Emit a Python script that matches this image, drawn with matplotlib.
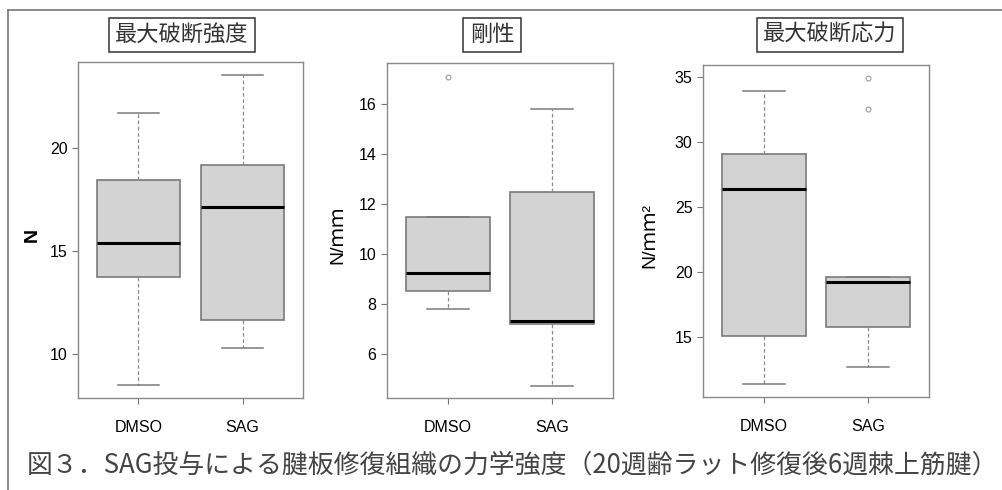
import matplotlib
matplotlib.use("Agg")
import matplotlib.pyplot as plt
from matplotlib.lines import Line2D

plt.rcParams['font.family'] = ['Liberation Sans', 'Noto Sans CJK JP', 'DejaVu Sans']

# groups
groups = ['DMSO', 'SAG']

# boxplot summaries: (whislo, q1, med, q3, whishi)
strength_stats = [(8.5, 13.72, 15.37, 18.45, 21.7), (10.27, 11.65, 17.15, 19.17, 23.55)]
strength_fliers = [[], []]
stiffness_stats = [(7.8, 8.54, 9.24, 11.5, 11.5), (4.74, 7.2, 7.35, 12.5, 15.81)]
stiffness_fliers = [[17.1], []]
stress_stats = [(11.43, 15.13, 26.38, 29.1, 33.93), (12.7, 15.8, 19.23, 19.62, 19.62)]
stress_fliers = [[], [34.93, 32.55]]

titles = ['最大破断強度', '剛性', '最大破断応力']
ylabels = ['N', 'N/ｍｍ', 'N/ｍｍ²']
yticks = [[10, 15, 20], [6, 8, 10, 12, 14, 16], [15, 20, 25, 30, 35]]
ylims = [(7.86, 24.17), (4.25, 17.65), (10.43, 35.9)]
caption = '図３．SAG投与による腱板修復組織の力学強度（20週齢ラット修復後6週棘上筋腱）'

panels = [(strength_stats, strength_fliers), (stiffness_stats, stiffness_fliers),
          (stress_stats, stress_fliers)]

W, H = 1002, 490
fig = plt.figure(figsize=(W / 100, H / 100), dpi=100)

# axes rectangles in pixels: left, top, right, bottom
rects = [(78, 62, 303, 398), (387, 63, 613, 398), (703, 65, 929, 397)]
title_x = [182, 492, 830]
ylabel_x = [32, 338, 650]

for i, (stats, fliers) in enumerate(panels):
    l, t, r, b = rects[i]
    ax = fig.add_axes([l / W, 1 - b / H, (r - l) / W, (b - t) / H])
    bxp_stats = []
    for g, s, f in zip(groups, stats, fliers):
        bxp_stats.append({'label': g, 'whislo': s[0], 'q1': s[1], 'med': s[2],
                          'q3': s[3], 'whishi': s[4], 'fliers': f})
    ax.bxp(bxp_stats, positions=[1, 2], widths=0.8, patch_artist=True,
           boxprops=dict(facecolor='#d3d3d3', edgecolor='#7a7a7a', linewidth=1.2),
           medianprops=dict(color='black', linewidth=2.2),
           whiskerprops=dict(color='#8a8a8a', linestyle=(0, (3, 2)), linewidth=0.9),
           capprops=dict(color='#7a7a7a', linewidth=1.1),
           flierprops=dict(marker='o', markersize=3.5, markerfacecolor='none',
                           markeredgecolor='#9a9a9a', markeredgewidth=0.8),
           capwidths=0.4)
    ax.set_xlim(0.42, 2.58)
    ax.set_ylim(*ylims[i])
    ax.set_yticks(yticks[i])
    ax.tick_params(axis='both', colors='#777777', labelcolor='black', labelsize=11.5,
                   length=4, width=0.8)
    ax.tick_params(axis='x', pad=12, labelsize=11.5)
    for sp in ax.spines.values():
        sp.set_color('#8a8a8a')
        sp.set_linewidth(1.0)

    fig.text(title_x[i] / W, 1 - 35 / H, titles[i], ha='center', va='center',
             fontsize=16, color='#333333',
             bbox=dict(boxstyle='square,pad=0.3', facecolor='white',
                       edgecolor='#333333', linewidth=1.1))
    fig.text(ylabel_x[i] / W, 1 - 235 / H, ylabels[i], ha='center', va='center',
             rotation=90, fontsize=14, fontweight='bold' if i == 0 else 'normal')

fig.text(27 / W, 1 - 465 / H, caption, ha='left', va='center', fontsize=18.6,
         color='#444444', family=['Noto Sans CJK JP', 'DejaVu Sans'])

# outer frame: top and left edges only
fig.add_artist(Line2D([8 / W, 1], [1 - 10 / H, 1 - 10 / H], color='#777777', lw=1.2))
fig.add_artist(Line2D([8 / W, 8 / W], [0, 1 - 10 / H], color='#777777', lw=1.2))

fig.savefig('out.png', dpi=100)
